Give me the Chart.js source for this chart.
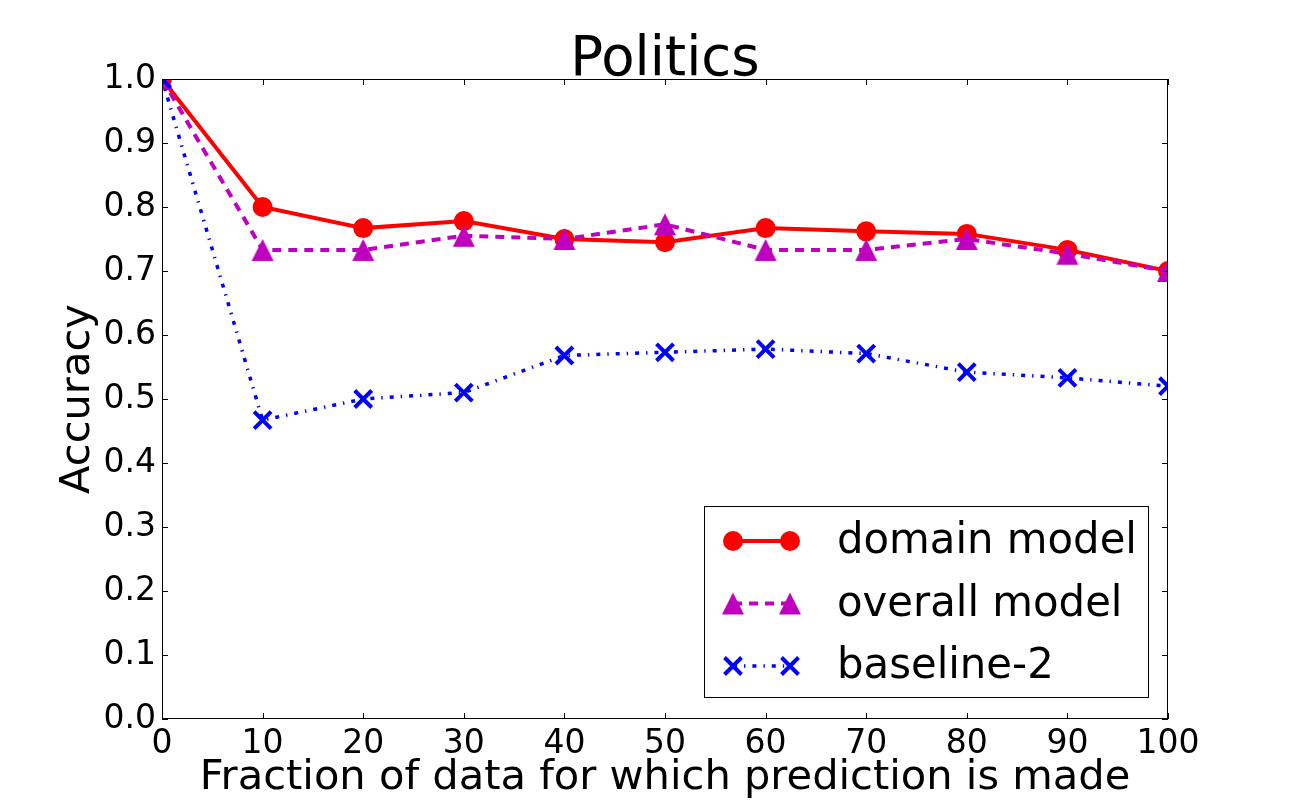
<!DOCTYPE html>
<html>
<head>
<meta charset="utf-8">
<title>Politics</title>
<script src="https://cdn.jsdelivr.net/npm/chart.js@4.4.0/dist/chart.umd.min.js"></script>
<style>
    html, body { margin: 0; padding: 0; background: #fff; }
    canvas { display: block; }
</style>
</head>
<body>
<canvas id="chart" width="1300" height="800"></canvas>
<script>
// Data
const fractions = [0, 10, 20, 30, 40, 50, 60, 70, 80, 90, 100];
const domainModel = [1.0, 0.800, 0.767, 0.778, 0.750, 0.745, 0.767, 0.762, 0.758, 0.733, 0.700];
const overallModel = [1.0, 0.733, 0.733, 0.755, 0.750, 0.773, 0.733, 0.733, 0.750, 0.727, 0.700];
const baseline2 = [1.0, 0.467, 0.500, 0.510, 0.568, 0.573, 0.578, 0.571, 0.542, 0.533, 0.520];

const seriesLabels = ['domain model', 'overall model', 'baseline-2'];
const xTicks = [0, 10, 20, 30, 40, 50, 60, 70, 80, 90, 100];
const yTicks = [0.0, 0.1, 0.2, 0.3, 0.4, 0.5, 0.6, 0.7, 0.8, 0.9, 1.0];

const FONT = "'DejaVu Sans', sans-serif";

function toPoints(values) {
    return fractions.map((f, i) => ({ x: f, y: values[i] }));
}

// matplotlib style '^' marker: as wide as it is tall
function makeTriangle(size, color) {
    const c = document.createElement('canvas');
    c.width = size + 2;
    c.height = size + 2;
    const g = c.getContext('2d');
    g.fillStyle = color;
    g.beginPath();
    g.moveTo(1 + size / 2, 1);
    g.lineTo(1 + size, 1 + size);
    g.lineTo(1, 1 + size);
    g.closePath();
    g.fill();
    return c;
}

const triangleMarker = makeTriangle(22, '#bf00bf');

// Marker drawing shared by the legend
function drawMarker(ctx, style, x, y, r, color, width) {
    ctx.save();
    ctx.fillStyle = color;
    ctx.strokeStyle = color;
    ctx.setLineDash([]);
    ctx.beginPath();
    if (style instanceof HTMLCanvasElement) {
        ctx.drawImage(style, x - style.width / 2, y - style.height / 2);
    } else if (style === 'circle') {
        ctx.arc(x, y, r, 0, Math.PI * 2);
        ctx.fill();
    } else if (style === 'crossRot') {
        const d = r * Math.SQRT1_2;
        ctx.lineWidth = width;
        ctx.moveTo(x - d, y - d); ctx.lineTo(x + d, y + d);
        ctx.moveTo(x - d, y + d); ctx.lineTo(x + d, y - d);
        ctx.stroke();
    }
    ctx.restore();
}

// Title centred over the plot area
const titlePlugin = {
    id: 'plotTitle',
    afterDraw(chart) {
        const { ctx, chartArea: a } = chart;
        ctx.save();
        ctx.fillStyle = '#000';
        ctx.font = '54.5px ' + FONT;
        ctx.textAlign = 'center';
        ctx.textBaseline = 'alphabetic';
        ctx.fillText('Politics', (a.left + a.right) / 2, 75);
        ctx.restore();
    }
};

// Frame and inward ticks on all four sides, like the original
const framePlugin = {
    id: 'frame',
    afterDatasetsDraw(chart) {
        const { ctx, chartArea: a, scales: { x, y } } = chart;
        const len = 6;
        ctx.save();
        ctx.strokeStyle = '#000';
        ctx.lineWidth = 1;
        ctx.beginPath();
        xTicks.forEach(v => {
            const px = Math.round(x.getPixelForValue(v)) + 0.5;
            ctx.moveTo(px, a.bottom); ctx.lineTo(px, a.bottom - len);
            ctx.moveTo(px, a.top); ctx.lineTo(px, a.top + len);
        });
        yTicks.forEach(v => {
            const py = Math.round(y.getPixelForValue(v)) + 0.5;
            ctx.moveTo(a.left, py); ctx.lineTo(a.left + len, py);
            ctx.moveTo(a.right, py); ctx.lineTo(a.right - len, py);
        });
        ctx.stroke();
        ctx.strokeRect(a.left + 0.5, a.top + 0.5, a.right - a.left - 1, a.bottom - a.top - 1);
        ctx.restore();
    }
};

// Boxed legend in the lower right of the plot
const legendPlugin = {
    id: 'boxLegend',
    afterDraw(chart) {
        const { ctx, chartArea: a } = chart;
        const box = { left: a.right - 464, top: a.bottom - 213, width: 444, height: 191 };
        ctx.save();
        ctx.fillStyle = '#fff';
        ctx.fillRect(box.left, box.top, box.width, box.height);
        ctx.strokeStyle = '#000';
        ctx.lineWidth = 1;
        ctx.strokeRect(box.left + 0.5, box.top + 0.5, box.width, box.height);

        chart.data.datasets.forEach((ds, i) => {
            const cy = box.top + 35 + i * 62.5;
            const x1 = box.left + 29;
            const x2 = box.left + 86;
            ctx.save();
            ctx.strokeStyle = ds.borderColor;
            ctx.lineWidth = ds.borderWidth;
            ctx.setLineDash(ds.borderDash || []);
            ctx.beginPath();
            ctx.moveTo(x1, cy);
            ctx.lineTo(x2, cy);
            ctx.stroke();
            ctx.restore();
            drawMarker(ctx, ds.pointStyle, x1, cy, ds.pointRadius, ds.pointBackgroundColor, ds.pointBorderWidth);
            drawMarker(ctx, ds.pointStyle, x2, cy, ds.pointRadius, ds.pointBackgroundColor, ds.pointBorderWidth);

            ctx.fillStyle = '#000';
            ctx.font = '41.8px ' + FONT;
            ctx.textBaseline = 'middle';
            ctx.textAlign = 'left';
            ctx.fillText(ds.label, box.left + 133, cy + 1.5);
        });
        ctx.restore();
    }
};

const chart = new Chart(document.getElementById('chart'), {
    type: 'line',
    data: {
        datasets: [
            {
                label: seriesLabels[0],
                data: toPoints(domainModel),
                borderColor: '#ff0000',
                borderWidth: 4,
                pointStyle: 'circle',
                pointRadius: 10,
                pointBackgroundColor: '#ff0000',
                pointBorderColor: '#ff0000',
                pointBorderWidth: 0,
                order: 3,
                clip: 0
            },
            {
                label: seriesLabels[1],
                data: toPoints(overallModel),
                borderColor: '#bf00bf',
                borderWidth: 4,
                borderDash: [9, 7],
                pointStyle: triangleMarker,
                pointRadius: 12,
                pointBackgroundColor: '#bf00bf',
                pointBorderColor: '#bf00bf',
                pointBorderWidth: 0,
                order: 2,
                clip: 0
            },
            {
                label: seriesLabels[2],
                data: toPoints(baseline2),
                borderColor: '#0000ff',
                borderWidth: 3.5,
                borderDash: [4, 7, 1.4, 7],
                pointStyle: 'crossRot',
                pointRadius: 12,
                pointBackgroundColor: '#0000ff',
                pointBorderColor: '#0000ff',
                pointBorderWidth: 4,
                order: 1,
                clip: 0
            }
        ]
    },
    options: {
        responsive: false,
        animation: false,
        events: [],
        devicePixelRatio: 1,
        layout: { padding: { left: 0, right: 132, top: 79, bottom: 0 } },
        elements: { line: { tension: 0, fill: false } },
        plugins: {
            legend: { display: false },
            tooltip: { enabled: false },
            title: { display: false }
        },
        scales: {
            x: {
                type: 'linear',
                min: 0,
                max: 100,
                afterBuildTicks: scale => { scale.ticks = xTicks.map(v => ({ value: v })); },
                afterFit: scale => { scale.height = 81; },
                grid: { display: false, drawTicks: false },
                border: { display: false },
                ticks: {
                    color: '#000',
                    padding: 6,
                    maxRotation: 0,
                    font: { family: FONT, size: 33 }
                },
                title: {
                    display: true,
                    text: 'Fraction of data for which prediction is made',
                    color: '#000',
                    font: { family: FONT, size: 41.6, lineHeight: 1 },
                    padding: { top: 0, bottom: 1 }
                }
            },
            y: {
                min: 0,
                max: 1,
                afterBuildTicks: scale => { scale.ticks = yTicks.map(v => ({ value: v })); },
                afterFit: scale => { scale.width = 162; },
                grid: { display: false, drawTicks: false },
                border: { display: false },
                ticks: {
                    color: '#000',
                    padding: 6,
                    font: { family: FONT, size: 33 },
                    callback: v => Number(v).toFixed(1)
                },
                title: {
                    display: true,
                    text: 'Accuracy',
                    color: '#000',
                    font: { family: FONT, size: 41.6, lineHeight: 1 },
                    padding: { top: 57, bottom: 0 }
                }
            }
        }
    },
    plugins: [framePlugin, legendPlugin, titlePlugin]
});
</script>
</body>
</html>
